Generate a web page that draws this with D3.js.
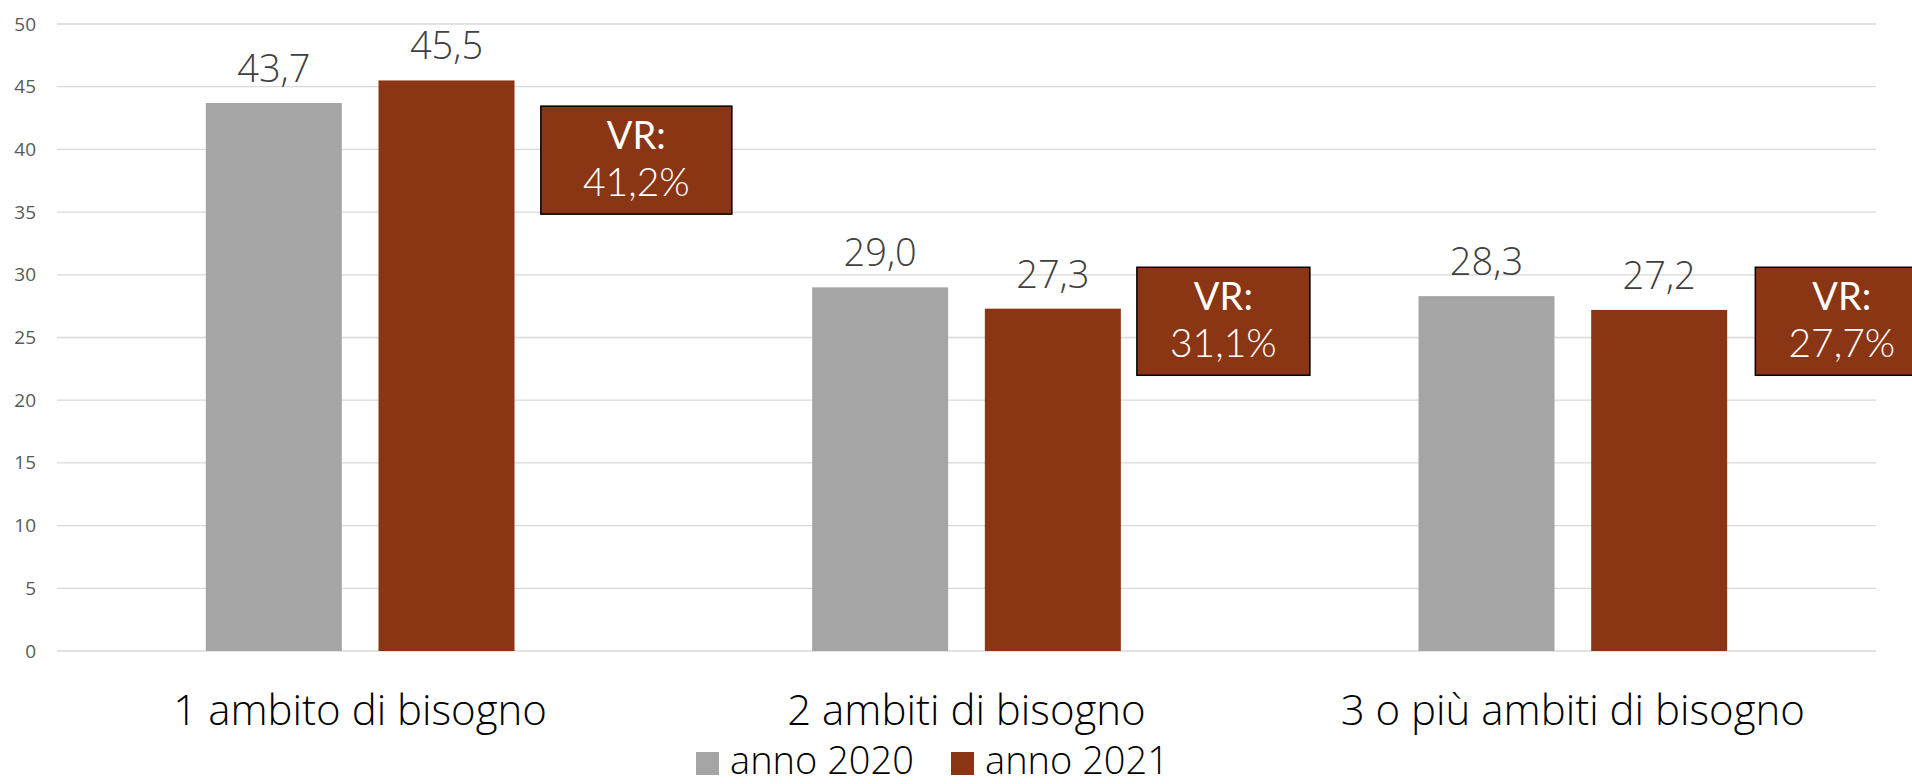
<!DOCTYPE html>
<html>
<head>
<meta charset="utf-8">
<script src="https://cdn.jsdelivr.net/npm/d3@7"></script>
<style>
  html, body { margin: 0; padding: 0; background: #fff; }
  svg { display: block; font-family: "Open Sans", "Lato", sans-serif; }
</style>
</head>
<body>
<svg id="chart" width="1912" height="784"></svg>
<script>
// ---- data ----
const categories = ["1 ambito di bisogno", "2 ambiti di bisogno", "3 o più ambiti di bisogno"];
const seriesNames = ["anno 2020", "anno 2021"];
const values2020 = [43.7, 29.0, 28.3];
const values2021 = [45.5, 27.3, 27.2];
const vrLabels = ["41,2%", "31,1%", "27,7%"];
const yTicks = [0, 5, 10, 15, 20, 25, 30, 35, 40, 45, 50];

// ---- style / layout ----
const colors = ["#A5A5A5", "#8A3615"];
const W = 1912, H = 784;
const plot = { left: 57, right: 1876, top: 24, bottom: 651 };
const fmt = v => d3.format(".1f")(v).replace(".", ",");

const svg = d3.select("#chart");

const x = d3.scaleBand().domain(categories).range([plot.left, plot.right]).padding(0);
const y = d3.scaleLinear().domain([0, 50]).range([plot.bottom, plot.top]);

const bw = x.bandwidth();
const barW = bw * 0.2243, gapW = bw * 0.0605;
const groupW = 2 * barW + gapW;
const x1 = d3.scaleBand().domain(seriesNames)
  .range([(bw - groupW) / 2, (bw + groupW) / 2])
  .paddingInner(gapW / (barW + gapW)).paddingOuter(0);

// gridlines
svg.append("g").selectAll("line").data(yTicks).join("line")
  .attr("x1", plot.left).attr("x2", plot.right)
  .attr("y1", d => y(d)).attr("y2", d => y(d))
  .attr("stroke", "#D9D9D9").attr("stroke-width", 1.3);

// y axis labels
const yAxis = d3.axisLeft(y).tickValues(yTicks).tickSize(0).tickPadding(0).tickFormat(d3.format("d"));
const gy = svg.append("g").attr("transform", `translate(36,0)`).call(yAxis);
gy.select(".domain").remove();
gy.selectAll("text").attr("font-size", 19).attr("fill", "#595959")
  .attr("font-family", "'Open Sans', sans-serif");

// bars
const rows = categories.map((c, i) => ({ cat: c, vals: [values2020[i], values2021[i]] }));
const groups = svg.append("g").selectAll("g").data(rows).join("g")
  .attr("transform", d => `translate(${x(d.cat)},0)`);

groups.selectAll("rect").data(d => d.vals.map((v, j) => ({ s: seriesNames[j], v, j }))).join("rect")
  .attr("x", d => x1(d.s)).attr("width", x1.bandwidth())
  .attr("y", d => y(d.v)).attr("height", d => y(0) - y(d.v))
  .attr("fill", d => colors[d.j]);

groups.selectAll("text.val").data(d => d.vals.map((v, j) => ({ s: seriesNames[j], v, j }))).join("text")
  .attr("class", "val")
  .attr("x", d => x1(d.s) + x1.bandwidth() / 2)
  .attr("y", d => y(d.v) - 21)
  .attr("text-anchor", "middle")
  .attr("font-size", 38).attr("font-weight", 300).attr("fill", "#404040")
  .text(d => fmt(d.v));

// VR annotation boxes (layout relative to each band)
const vrLayout = [
  { fx: 0.798, w: 191, topVal: 43.45 },
  { fx: 0.781, w: 173, topVal: 30.6 },
  { fx: 0.801, w: 173, topVal: 30.6 }
];
const boxH = 108;
const vr = svg.append("g").selectAll("g").data(vrLabels.map((t, i) => ({ t, i, cat: categories[i], L: vrLayout[i] }))).join("g")
  .attr("transform", d => `translate(${x(d.cat) + d.L.fx * bw},${y(d.L.topVal)})`);
vr.append("rect").attr("x", 0).attr("y", 0).attr("width", d => d.L.w).attr("height", boxH)
  .attr("fill", colors[1]).attr("stroke", "#000").attr("stroke-width", 1.5);
vr.append("text").attr("x", d => d.L.w / 2).attr("y", 43).attr("text-anchor", "middle")
  .attr("font-family", "Lato, sans-serif")
  .attr("font-size", 38).attr("font-weight", 400).attr("fill", "#fff").text("VR:");
vr.append("text").attr("x", d => d.L.w / 2).attr("y", 90).attr("text-anchor", "middle")
  .attr("font-family", "Lato, sans-serif")
  .attr("font-size", 39).attr("font-weight", 300).attr("fill", "#fff").text(d => d.t);

// category labels
svg.append("g").selectAll("text").data(categories).join("text")
  .attr("x", d => x(d) + bw / 2).attr("y", 725)
  .attr("text-anchor", "middle").attr("font-size", 42).attr("font-weight", 300).attr("fill", "#000")
  .text(d => d);

// legend
const legendX = [696, 951];
const lg = svg.append("g").selectAll("g").data(seriesNames).join("g")
  .attr("transform", (d, i) => `translate(${legendX[i]},0)`);
lg.append("rect").attr("x", 0).attr("y", 752).attr("width", 23).attr("height", 23)
  .attr("fill", (d, i) => colors[i]);
lg.append("text").attr("x", 34).attr("y", 774).attr("font-size", 38).attr("font-weight", 300)
  .attr("fill", "#000").text(d => d);
</script>
</body>
</html>
